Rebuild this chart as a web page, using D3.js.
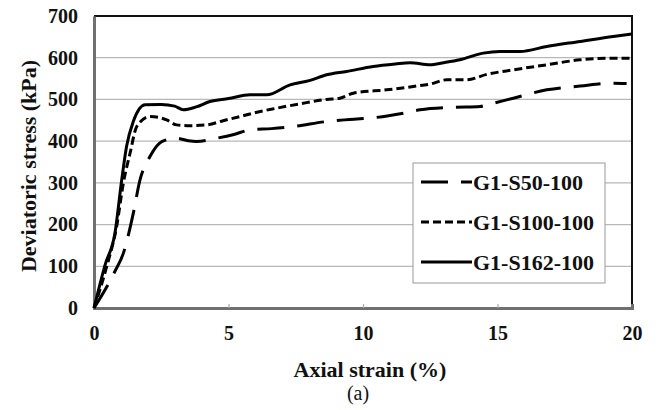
<!DOCTYPE html>
<html lang="en">
<head>
  <meta charset="UTF-8">
  <title>Deviatoric stress vs axial strain</title>
  <script src="https://d3js.org/d3.v7.min.js"></script>
  <style>
    body {
      margin: 0;
      background: #fff;
      font-family: 'Liberation Serif', 'Times New Roman', serif;
    }
    svg text { fill: #111; }
  </style>
</head>
<body>
  <div id="chart"></div>
  <script>
    // series (axial strain %, deviatoric stress kPa)
    const strainS50 = [0, 0.78, 1.09, 1.46, 1.71, 2.08, 2.52, 3.07, 3.5, 3.81, 4.56, 5.2, 5.8, 6.6, 7.41, 8.65, 9.5, 10.51, 11.5, 12.12, 13.36, 14.35, 14.6, 15.59, 16.83, 18.07, 19.3, 19.8];
    const stressS50 = [0, 88, 131, 227, 307, 363, 399, 407, 401, 399, 407, 416, 427, 430, 435, 447, 452, 457, 467, 475, 481, 483, 487, 503, 523, 532, 539, 538];

    const strainS100 = [0, 0.47, 0.84, 1.09, 1.34, 1.59, 2.08, 2.7, 3.07, 3.6, 4.19, 4.8, 5.43, 6.1, 6.79, 7.7, 8.65, 9.14, 9.64, 10.88, 11.87, 12.5, 13.11, 13.85, 14.6, 15.59, 16.83, 18.07, 19.3, 20];
    const stressS100 = [0, 99, 195, 299, 371, 435, 459, 451, 439, 437, 439, 449, 459, 470, 479, 490, 500, 503, 515, 523, 531, 537, 547, 547, 560, 571, 583, 595, 599, 599];

    const strainS162 = [0, 0.41, 0.78, 1.03, 1.21, 1.46, 1.9, 2.5, 3.0, 3.32, 3.8, 4.31, 5.0, 5.8, 6.42, 7.29, 8.0, 8.65, 9.39, 10.38, 11.2, 11.75, 12.49, 13.0, 13.6, 14.47, 15.09, 15.84, 16.83, 18.07, 19.3, 20];
    const stressS162 = [0, 103, 180, 307, 387, 447, 487, 488, 484, 475, 482, 495, 502, 511, 511, 535, 545, 559, 567, 579, 585, 588, 583, 588, 595, 611, 615, 615, 627, 639, 651, 657];

    const seriesNames = ["G1-S50-100", "G1-S100-100", "G1-S162-100"];
    const xTicks = [0, 5, 10, 15, 20];
    const yTicks = [0, 100, 200, 300, 400, 500, 600, 700];

    const W = 659, H = 410;
    const margin = { top: 16, right: 27, bottom: 102, left: 94 };
    const width = W - margin.left - margin.right;
    const height = H - margin.top - margin.bottom;

    const svg = d3.select("#chart").append("svg")
      .attr("width", W)
      .attr("height", H);

    const g = svg.append("g")
      .attr("transform", `translate(${margin.left},${margin.top})`);

    const x = d3.scaleLinear().domain([0, 20]).range([0, width]);
    const y = d3.scaleLinear().domain([0, 700]).range([height, 0]);

    // gridlines
    g.append("g")
      .selectAll("line")
      .data(yTicks.slice(1, -1))
      .join("line")
      .attr("x1", 0).attr("x2", width)
      .attr("y1", d => y(d)).attr("y2", d => y(d))
      .attr("stroke", "#b8b8b8")
      .attr("stroke-width", 1.2);

    // top / right frame in black
    g.append("path")
      .attr("d", `M0,${y(700)}H${width}V${height}`)
      .attr("fill", "none")
      .attr("stroke", "#111")
      .attr("stroke-width", 2);

    // axes
    const xAxis = g.append("g")
      .attr("transform", `translate(0,${height})`)
      .call(d3.axisBottom(x).tickValues(xTicks).tickSize(-4).tickPadding(18));
    const yAxis = g.append("g")
      .call(d3.axisLeft(y).tickValues(yTicks).tickSize(0).tickPadding(16));

    [xAxis, yAxis].forEach(ax => {
      ax.select(".domain").attr("stroke", "#707070").attr("stroke-width", 3);
      ax.selectAll(".tick line").attr("stroke", "#aaa").attr("stroke-width", 1.2);
      ax.selectAll("text")
        .attr("font-family", "'Liberation Serif', serif")
        .attr("font-weight", "bold")
        .attr("font-size", 20)
        .attr("fill", "#111");
    });
    xAxis.selectAll(".tick").filter(d => d === 0 || d === 20).select("line").remove();

    // series
    const series = [
      { name: seriesNames[0], xs: strainS50, ys: stressS50, dash: "27,13" },
      { name: seriesNames[1], xs: strainS100, ys: stressS100, dash: "8,4" },
      { name: seriesNames[2], xs: strainS162, ys: stressS162, dash: null }
    ];

    const line = d3.line()
      .x(d => x(d[0]))
      .y(d => y(d[1]))
      .curve(d3.curveMonotoneX);

    series.forEach(s => {
      g.append("path")
        .datum(s.xs.map((v, i) => [v, s.ys[i]]))
        .attr("fill", "none")
        .attr("stroke", "#000")
        .attr("stroke-width", 3)
        .attr("stroke-dasharray", s.dash)
        .attr("d", line);
    });

    // legend
    const legend = svg.append("g").attr("transform", "translate(413,163)");
    legend.append("rect")
      .attr("width", 192).attr("height", 120)
      .attr("fill", "#fff")
      .attr("stroke", "#999")
      .attr("stroke-width", 1);

    series.forEach((s, i) => {
      const cy = 19 + i * 40;
      legend.append("line")
        .attr("x1", 8).attr("x2", 59)
        .attr("y1", cy).attr("y2", cy)
        .attr("stroke", "#000")
        .attr("stroke-width", 3)
        .attr("stroke-dasharray", s.dash);
      legend.append("text")
        .attr("x", 60).attr("y", cy)
        .attr("dy", "0.35em")
        .attr("font-weight", "bold")
        .attr("font-size", 22)
        .text(s.name);
    });

    // axis titles
    svg.append("text")
      .attr("x", 370).attr("y", 377)
      .attr("text-anchor", "middle")
      .attr("font-weight", "bold")
      .attr("font-size", 22)
      .text("Axial strain (%)");

    svg.append("text")
      .attr("transform", `translate(36,166) rotate(-90)`)
      .attr("text-anchor", "middle")
      .attr("font-weight", "bold")
      .attr("font-size", 22)
      .text("Deviatoric stress (kPa)");

    svg.append("text")
      .attr("x", 358).attr("y", 400)
      .attr("text-anchor", "middle")
      .attr("font-size", 20)
      .text("(a)");
  </script>
</body>
</html>
